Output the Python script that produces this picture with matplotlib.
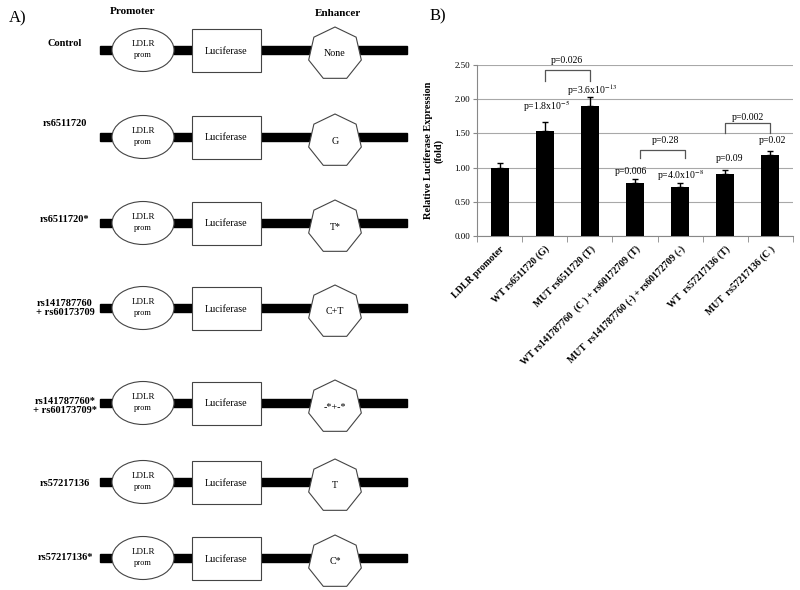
import matplotlib
matplotlib.use("Agg")
import matplotlib.pyplot as plt
from matplotlib.patches import Ellipse, Rectangle, RegularPolygon
import numpy as np

plt.rcParams['font.family'] = ['Liberation Serif', 'DejaVu Serif']
plt.rcParams['mathtext.fontset'] = 'stix'

# ---- panel A data ----
constructs = ['Control', 'rs6511720', 'rs6511720*', 'rs141787760\n+ rs60173709',
              'rs141787760*\n+ rs60173709*', 'rs57217136', 'rs57217136*']
enhancers = ['None', 'G', 'T*', 'C+T', '-*+-*', 'T', 'C*']

# ---- panel B data ----
groups = ['LDLR promoter', 'WT rs6511720 (G)', 'MUT rs6511720 (T)',
          'WT rs141787760  (C ) + rs60172709 (T)',
          'MUT  rs141787760 (-) + rs60172709 (-)',
          'WT  rs57217136 (T)', 'MUT  rs57217136 (C )']
expr = [1.00, 1.54, 1.90, 0.77, 0.72, 0.90, 1.18]
err = [0.06, 0.12, 0.13, 0.06, 0.06, 0.07, 0.07]
pvals = ['', 'p=1.8x10$^{-5}$', 'p=3.6x10$^{-13}$', 'p=0.006',
         'p=4.0x10$^{-8}$', 'p=0.09', 'p=0.02']
pairs = [(1, 2, 'p=0.026'), (3, 4, 'p=0.28'), (5, 6, 'p=0.002')]

# layout (pixels of the 800x590 picture)
row_y = [50, 137, 223, 308, 403, 482, 558]
label_dy = [-7, -13, -3, 0, 3, 2, -1]

fig = plt.figure(figsize=(8, 5.9), dpi=100)

# background axes in pixel coordinates for the diagram
bg = fig.add_axes([0, 0, 1, 1])
bg.set_xlim(0, 800)
bg.set_ylim(590, 0)
bg.axis('off')

bg.text(9, 18, 'A)', fontsize=12, va='center', ha='left')
bg.text(430, 16, 'B)', fontsize=12, va='center', ha='left')
bg.text(133, 12, 'Promoter', fontsize=8, fontweight='bold', ha='center', va='center')
bg.text(338, 13, 'Enhancer', fontsize=8, fontweight='bold', ha='center', va='center')

for i, y in enumerate(row_y):
    # backbone
    bg.add_patch(Rectangle((100, y - 4.3), 307, 8.6, color='black', zorder=1))
    # promoter ellipse
    bg.add_patch(Ellipse((143, y), 62, 43, facecolor='white', edgecolor='#444444',
                         lw=0.8, zorder=2))
    bg.text(143, y - 6, 'LDLR', fontsize=6.5, ha='center', va='center', zorder=3)
    bg.text(143, y + 5, 'prom', fontsize=6, ha='center', va='center', zorder=3)
    # luciferase box
    bg.add_patch(Rectangle((192, y - 21.5), 69, 43, facecolor='white',
                           edgecolor='#444444', lw=0.8, zorder=2))
    bg.text(226.5, y + 1, 'Luciferase', fontsize=7.2, ha='center', va='center', zorder=3)
    # enhancer heptagon
    bg.add_patch(RegularPolygon((335, y + 4), numVertices=7, radius=27,
                                orientation=np.pi, facecolor='white',
                                edgecolor='#444444', lw=0.8, zorder=2))
    bg.text(335, y + 4, enhancers[i], fontsize=7.2, ha='center', va='center', zorder=3)
    # construct label
    bg.text(65, y + label_dy[i], constructs[i], fontsize=7.5, fontweight='bold',
            ha='center', va='center', multialignment='center', linespacing=1.1)

# ---- panel B ----
ax = fig.add_axes([477 / 800, 1 - 236 / 590, 316 / 800, 171 / 590])
x = np.arange(len(groups))
ax.bar(x, expr, width=0.4, color='black', zorder=3,
       yerr=[np.zeros(len(err)), err], capsize=2.5,
       error_kw=dict(ecolor='black', elinewidth=1, capthick=1, zorder=4))
ax.set_xlim(-0.5, len(groups) - 0.5)
ax.set_ylim(0, 2.5)
ax.set_yticks(np.arange(0, 2.51, 0.5))
ax.set_yticklabels(['%.2f' % v for v in np.arange(0, 2.51, 0.5)], fontsize=6.5)
ax.yaxis.grid(True, color='#a8a8a8', lw=0.8, zorder=0)
ax.set_axisbelow(True)
for s in ['top', 'right']:
    ax.spines[s].set_visible(False)
for s in ['left', 'bottom']:
    ax.spines[s].set_color('#888888')
    ax.spines[s].set_linewidth(0.8)
ax.tick_params(axis='y', length=3, color='#888888', pad=2)
ax.set_xticks(x)
ax.set_xticklabels(groups, rotation=45, ha='right', va='top', rotation_mode='anchor',
                   fontsize=7, fontweight='bold')
ax.tick_params(axis='x', which='major', length=0, pad=6)
ax.set_xticks(np.arange(-0.5, len(groups), 1), minor=True)
ax.tick_params(axis='x', which='minor', length=4, color='#888888')

ax.set_ylabel('Relative Luciferase Expression\n(fold)', fontsize=7.5,
              fontweight='bold', linespacing=1.1)
ax.yaxis.set_label_coords(-0.105, 0.5)

# single p values
pv_y = [0, 1.90, 2.13, 0.94, 0.89, 1.14, 1.40]
pv_x = [0, 1.05, 2.05, 2.9, 4.0, 5.1, 6.05]
for i in range(1, len(groups)):
    ax.text(pv_x[i], pv_y[i], pvals[i], fontsize=7, ha='center', va='center')

# pairwise comparison brackets
br_top = [2.43, 1.26, 1.65]
br_leg = [0.16, 0.12, 0.14]
br_shift = [0.0, 0.1, 0.0]
txt_y = [2.57, 1.40, 1.73]
for k, (a, b, lab) in enumerate(pairs):
    xa, xb = a + br_shift[k], b + br_shift[k]
    t = br_top[k]
    ax.plot([xa, xa, xb, xb], [t - br_leg[k], t, t, t - br_leg[k]],
            color='#555555', lw=0.9, clip_on=False, zorder=5)
    ax.text((xa + xb) / 2 + (0.07 if k == 1 else 0), txt_y[k], lab, fontsize=7,
            ha='center', va='center')

fig.savefig('out.png', dpi=100)
